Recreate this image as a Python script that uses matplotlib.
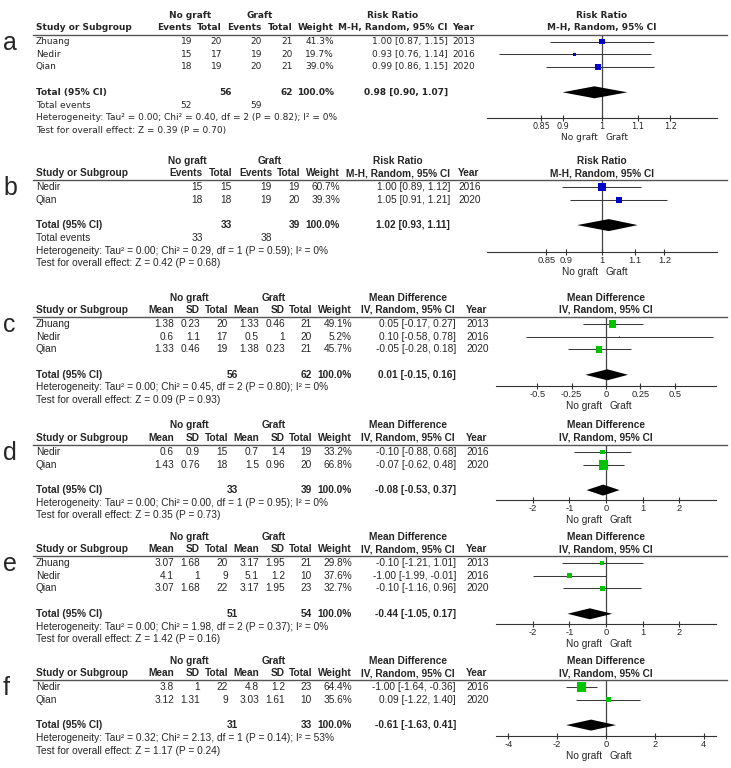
import matplotlib.pyplot as plt
from matplotlib.lines import Line2D
from matplotlib.ticker import NullLocator

W, H = 731, 768
TXT = '#262626'
BLUE = '#0000c8'
GREEN = '#00c400'

NARROW = 'Liberation Sans'
NARROW_FS = 7.3
WIDE = 'DejaVu Sans'
WIDE_FS = 6.5

# ---------------- data ----------------
# a: risk ratio
a_study = ['Zhuang', 'Nedir', 'Qian']
a_ev1 = [19, 15, 18]
a_n1 = [20, 17, 19]
a_ev2 = [20, 19, 20]
a_n2 = [21, 20, 21]
a_weight = [41.3, 19.7, 39.0]
a_est = [1.00, 0.93, 0.99]
a_lo = [0.87, 0.76, 0.86]
a_hi = [1.15, 1.14, 1.15]
a_year = [2013, 2016, 2020]
a_tot_n = [56, 62]
a_tot_events = [52, 59]
a_tot = [0.98, 0.90, 1.07]
a_het = 'Heterogeneity: Tau² = 0.00; Chi² = 0.40, df = 2 (P = 0.82); I² = 0%'
a_test = 'Test for overall effect: Z = 0.39 (P = 0.70)'

# b: risk ratio
b_study = ['Nedir', 'Qian']
b_ev1 = [15, 18]
b_n1 = [15, 18]
b_ev2 = [19, 19]
b_n2 = [19, 20]
b_weight = [60.7, 39.3]
b_est = [1.00, 1.05]
b_lo = [0.89, 0.91]
b_hi = [1.12, 1.21]
b_year = [2016, 2020]
b_tot_n = [33, 39]
b_tot_events = [33, 38]
b_tot = [1.02, 0.93, 1.11]
b_het = 'Heterogeneity: Tau² = 0.00; Chi² = 0.29, df = 1 (P = 0.59); I² = 0%'
b_test = 'Test for overall effect: Z = 0.42 (P = 0.68)'

rr_ticks = [0.85, 0.9, 1, 1.1, 1.2]
rr_ticklabels = ['0.85', '0.9', '1', '1.1', '1.2']

# c: mean difference
c_study = ['Zhuang', 'Nedir', 'Qian']
c_m1 = [1.38, 0.6, 1.33]
c_sd1 = [0.23, 1.1, 0.46]
c_n1 = [20, 17, 19]
c_m2 = [1.33, 0.5, 1.38]
c_sd2 = [0.46, 1, 0.23]
c_n2 = [21, 20, 21]
c_weight = [49.1, 5.2, 45.7]
c_est = [0.05, 0.10, -0.05]
c_lo = [-0.17, -0.58, -0.28]
c_hi = [0.27, 0.78, 0.18]
c_year = [2013, 2016, 2020]
c_tot_n = [56, 62]
c_tot = [0.01, -0.15, 0.16]
c_het = 'Heterogeneity: Tau² = 0.00; Chi² = 0.45, df = 2 (P = 0.80); I² = 0%'
c_test = 'Test for overall effect: Z = 0.09 (P = 0.93)'
c_ticks = [-0.5, -0.25, 0, 0.25, 0.5]

# d
d_study = ['Nedir', 'Qian']
d_m1 = [0.6, 1.43]
d_sd1 = [0.9, 0.76]
d_n1 = [15, 18]
d_m2 = [0.7, 1.5]
d_sd2 = [1.4, 0.96]
d_n2 = [19, 20]
d_weight = [33.2, 66.8]
d_est = [-0.10, -0.07]
d_lo = [-0.88, -0.62]
d_hi = [0.68, 0.48]
d_year = [2016, 2020]
d_tot_n = [33, 39]
d_tot = [-0.08, -0.53, 0.37]
d_het = 'Heterogeneity: Tau² = 0.00; Chi² = 0.00, df = 1 (P = 0.95); I² = 0%'
d_test = 'Test for overall effect: Z = 0.35 (P = 0.73)'
d_ticks = [-2, -1, 0, 1, 2]

# e
e_study = ['Zhuang', 'Nedir', 'Qian']
e_m1 = [3.07, 4.1, 3.07]
e_sd1 = [1.68, 1, 1.68]
e_n1 = [20, 9, 22]
e_m2 = [3.17, 5.1, 3.17]
e_sd2 = [1.95, 1.2, 1.95]
e_n2 = [21, 10, 23]
e_weight = [29.8, 37.6, 32.7]
e_est = [-0.10, -1.00, -0.10]
e_lo = [-1.21, -1.99, -1.16]
e_hi = [1.01, -0.01, 0.96]
e_year = [2013, 2016, 2020]
e_tot_n = [51, 54]
e_tot = [-0.44, -1.05, 0.17]
e_het = 'Heterogeneity: Tau² = 0.00; Chi² = 1.98, df = 2 (P = 0.37); I² = 0%'
e_test = 'Test for overall effect: Z = 1.42 (P = 0.16)'
e_ticks = [-2, -1, 0, 1, 2]

# f
f_study = ['Nedir', 'Qian']
f_m1 = [3.8, 3.12]
f_sd1 = [1, 1.31]
f_n1 = [22, 9]
f_m2 = [4.8, 3.03]
f_sd2 = [1.2, 1.61]
f_n2 = [23, 10]
f_weight = [64.4, 35.6]
f_est = [-1.00, 0.09]
f_lo = [-1.64, -1.22]
f_hi = [-0.36, 1.40]
f_year = [2016, 2020]
f_tot_n = [31, 33]
f_tot = [-0.61, -1.63, 0.41]
f_het = 'Heterogeneity: Tau² = 0.32; Chi² = 2.13, df = 1 (P = 0.14); I² = 53%'
f_test = 'Test for overall effect: Z = 1.17 (P = 0.24)'
f_ticks = [-4, -2, 0, 2, 4]

# ---------------- drawing ----------------
fig = plt.figure(figsize=(W / 100, H / 100), dpi=100)


def fx(x):
    return x / W


def fy(y):
    return 1 - y / H


def put(x, y, s, font, fs, ha='left', bold=False, va='center'):
    fig.text(fx(x), fy(y), s, ha=ha, va=va, family=font, fontsize=fs,
             fontweight='bold' if bold else 'normal', color=TXT)


def fmt(v):
    return '{:g}'.format(v)


def ci(e, lo, hi):
    return '{:.2f} [{:.2f}, {:.2f}]'.format(e, lo, hi)


def draw(p):
    f, fs = p['font'], p['fs']
    r0, sp = p['row0'], 12.7
    n = len(p['study'])
    rows = [r0 + i * sp for i in range(n)]
    tot_y = r0 + (n + 1) * sp
    line_y = r0 - 7
    h1, h2 = r0 - 26.5, r0 - 14
    cols = p['cols']
    mid = p['null_px']

    put(3, r0 + 8, p['letter'], 'Liberation Sans', 18, va='baseline')

    # table header
    put(p['g1'], h1, 'No graft', f, fs, ha='center', bold=True)
    put(p['g2'], h1, 'Graft', f, fs, ha='center', bold=True)
    put(p['ci_c'], h1, p['measure'], f, fs, ha='center', bold=True)
    put(36, h2, 'Study or Subgroup', f, fs, bold=True)
    for x, s in zip(cols, p['colnames']):
        put(x, h2, s, f, fs, ha='right', bold=True)
    put(p['w_r'], h2, 'Weight', f, fs, ha='right', bold=True)
    put(p['ci_c'], h2, p['method'], f, fs, ha='center', bold=True)
    put(p['year_l'], h2, 'Year', f, fs, bold=True)
    put(mid, h1, p['measure'], f, fs, ha='center', bold=True)
    put(mid, h2, p['method'], f, fs, ha='center', bold=True)
    fig.add_artist(Line2D([fx(33), fx(727)], [fy(line_y)] * 2, lw=1.0,
                          color='#555555', transform=fig.transFigure))

    # study rows
    for i, y in enumerate(rows):
        put(36, y, p['study'][i], f, fs)
        for x, vals in zip(cols, p['values']):
            put(x, y, fmt(vals[i]), f, fs, ha='right')
        put(p['w_r'], y, '{:.1f}%'.format(p['weight'][i]), f, fs, ha='right')
        put(p['ci_r'], y, ci(p['est'][i], p['lo'][i], p['hi'][i]), f, fs, ha='right')
        put(p['year_l'], y, str(p['year'][i]), f, fs)

    # total rows
    te, tl, th = p['tot']
    put(36, tot_y, 'Total (95% CI)', f, fs, bold=True)
    put(p['tn_x'][0], tot_y, str(p['tot_n'][0]), f, fs, ha='right', bold=True)
    put(p['tn_x'][1], tot_y, str(p['tot_n'][1]), f, fs, ha='right', bold=True)
    put(p['w_r'], tot_y, '100.0%', f, fs, ha='right', bold=True)
    put(p['ci_r'], tot_y, ci(te, tl, th), f, fs, ha='right', bold=True)
    y = tot_y + sp
    if p.get('events'):
        put(36, y, 'Total events', f, fs)
        put(cols[0], y, str(p['events'][0]), f, fs, ha='right')
        put(cols[2], y, str(p['events'][1]), f, fs, ha='right')
        y += sp
    put(36, y, p['het'], f, fs)
    put(36, y + sp, p['test'], f, fs)

    # forest plot
    ay = p['axis_y']
    x0, x1 = p['x_range']
    ax = fig.add_axes([fx(x0), fy(ay), (x1 - x0) / W, (ay - line_y) / H])
    if p['log']:
        ax.set_xscale('log')
    ax.set_xlim(p['xlim'])
    ax.set_ylim(ay, line_y)
    ax.patch.set_visible(False)
    for s in ['top', 'left', 'right']:
        ax.spines[s].set_visible(False)
    ax.spines['bottom'].set_color('#333333')
    ax.spines['bottom'].set_linewidth(0.8)
    ax.set_yticks([])
    ax.set_xticks(p['ticks'])
    ax.xaxis.set_minor_locator(NullLocator())
    ax.set_xticklabels(p['ticklabels'], family=f, fontsize=fs - 0.6, color=TXT)
    ax.tick_params(axis='x', direction='inout', length=5, width=0.8,
                   color='#333333', pad=0.5)
    ax.axvline(p['null'], color='#444444', lw=0.9, zorder=1)
    ax.hlines(rows, p['lo'], p['hi'], color='#3a3a3a', lw=0.75, zorder=2)
    sizes = [(0.145 * w * 0.72) ** 2 for w in p['weight']]
    ax.scatter(p['est'], rows, s=sizes, marker='s', color=p['colour'],
               linewidths=0, zorder=3)
    dh = p['dh']
    ax.fill([tl, te, th, te], [tot_y, tot_y - dh, tot_y, tot_y + dh],
            color='black', lw=0, zorder=3)
    put(mid - 4, ay + 20, 'No graft', f, fs, ha='right')
    put(mid + 4, ay + 20, 'Graft', f, fs)


rr_common = dict(measure='Risk Ratio', method='M-H, Random, 95% CI',
                 colnames=['Events', 'Total', 'Events', 'Total'],
                 log=True, ticks=rr_ticks, ticklabels=rr_ticklabels,
                 null=1, null_px=602, x_range=(487, 717), colour=BLUE, dh=6)
md_cols = [174, 200, 228, 259, 285, 312]
md_common = dict(measure='Mean Difference', method='IV, Random, 95% CI',
                 colnames=['Mean', 'SD', 'Total', 'Mean', 'SD', 'Total'],
                 font=NARROW, fs=NARROW_FS, cols=md_cols,
                 tn_x=[md_cols[2] + 10, md_cols[5]],
                 g1=189, g2=274, ci_c=408, w_r=352, ci_r=456, year_l=466,
                 log=False, null=0, null_px=606, x_range=(496, 716),
                 colour=GREEN, dh=5.5)

a_cols = [192, 222, 262, 293]
draw(dict(rr_common, letter='a', font=WIDE, fs=WIDE_FS, row0=41.5, axis_y=118,
          study=a_study, values=[a_ev1, a_n1, a_ev2, a_n2], cols=a_cols,
          weight=a_weight, est=a_est, lo=a_lo, hi=a_hi, year=a_year,
          tot_n=a_tot_n, tn_x=[a_cols[1] + 10, a_cols[3]], tot=a_tot,
          events=a_tot_events, het=a_het, test=a_test,
          g1=190, g2=260, ci_c=393, w_r=334, ci_r=448, year_l=452,
          xlim=(1 / 1.36, 1.36)))

b_cols = [203, 232, 272, 300]
draw(dict(rr_common, letter='b', font=NARROW, fs=NARROW_FS, row0=187, axis_y=252,
          study=b_study, values=[b_ev1, b_n1, b_ev2, b_n2], cols=b_cols,
          weight=b_weight, est=b_est, lo=b_lo, hi=b_hi, year=b_year,
          tot_n=b_tot_n, tn_x=[b_cols[1], b_cols[3]], tot=b_tot,
          events=b_tot_events, het=b_het, test=b_test,
          g1=187, g2=270, ci_c=398, w_r=340, ci_r=450, year_l=458,
          xlim=(1 / 1.4, 1.4)))

for letter, r0, ay, st, vals, w, est, lo, hi, yr, tn, tot, het, test, ticks, lim in [
    ('c', 324, 386, c_study, [c_m1, c_sd1, c_n1, c_m2, c_sd2, c_n2], c_weight,
     c_est, c_lo, c_hi, c_year, c_tot_n, c_tot, c_het, c_test, c_ticks, (-0.8, 0.8)),
    ('d', 452, 500, d_study, [d_m1, d_sd1, d_n1, d_m2, d_sd2, d_n2], d_weight,
     d_est, d_lo, d_hi, d_year, d_tot_n, d_tot, d_het, d_test, d_ticks, (-3, 3)),
    ('e', 563, 624, e_study, [e_m1, e_sd1, e_n1, e_m2, e_sd2, e_n2], e_weight,
     e_est, e_lo, e_hi, e_year, e_tot_n, e_tot, e_het, e_test, e_ticks, (-3, 3)),
    ('f', 687, 736, f_study, [f_m1, f_sd1, f_n1, f_m2, f_sd2, f_n2], f_weight,
     f_est, f_lo, f_hi, f_year, f_tot_n, f_tot, f_het, f_test, f_ticks, (-4.5, 4.5)),
]:
    draw(dict(md_common, letter=letter, row0=r0, axis_y=ay, study=st, values=vals,
              weight=w, est=est, lo=lo, hi=hi, year=yr, tot_n=tn, tot=tot,
              het=het, test=test, ticks=ticks, ticklabels=[fmt(t) for t in ticks],
              xlim=lim))

fig.savefig('out.png', dpi=100, facecolor='white')
